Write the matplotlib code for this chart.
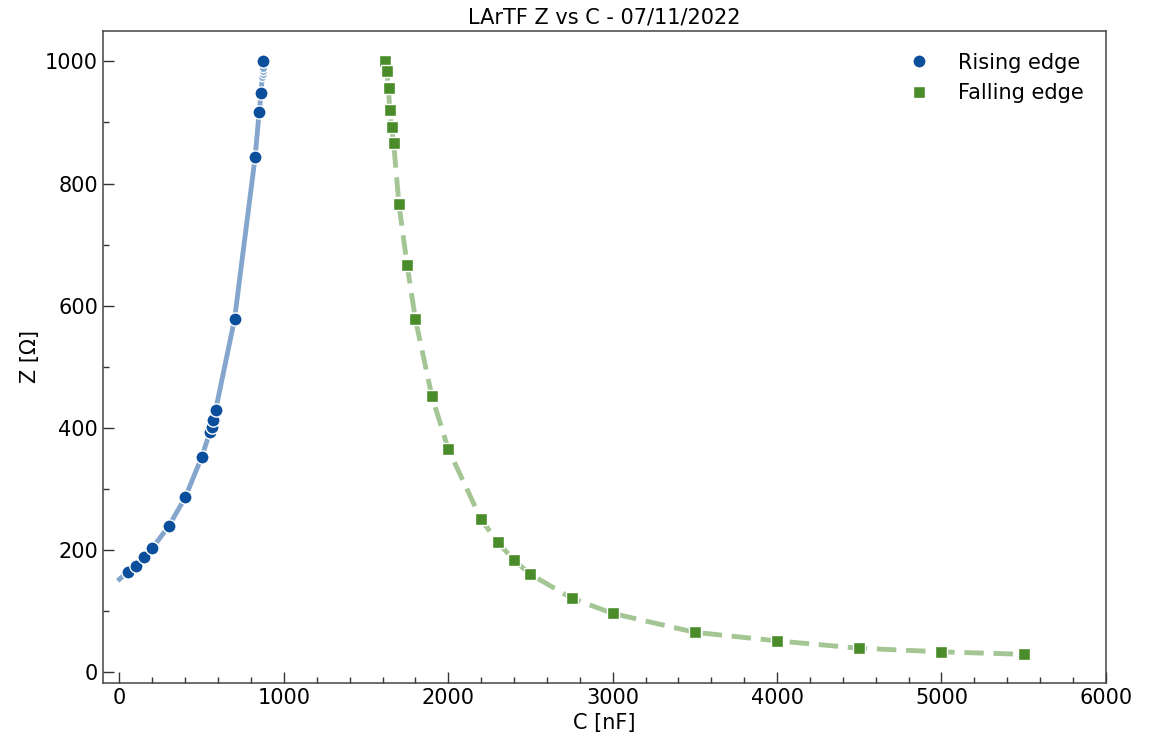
import matplotlib.pyplot as plt
import numpy as np

# rising edge measurements
rise_c = [50, 100, 150, 200, 300, 400, 500, 550, 560, 570, 585, 700, 825, 850, 862, 875]
rise_z = [164, 174, 188, 203, 239, 286, 352, 393, 402, 413, 429, 578, 843, 918, 949, 1000]
# fitted curve for the rising edge
rise_fit_c = [0, 50, 100, 150, 200, 300, 400, 500, 550, 585, 700, 825, 850, 862, 868, 870, 872, 874, 875]
rise_fit_z = [152, 164, 174, 188, 203, 239, 286, 352, 393, 429, 578, 843, 918, 949, 975, 980, 985, 990, 1000]
rise_faint_c = [868, 870, 872, 874]
rise_faint_z = [975, 980, 985, 990]

# falling edge measurements
fall_c = [1613, 1625, 1637, 1643, 1655, 1668, 1700, 1750, 1800, 1900, 2000,
          2200, 2300, 2400, 2500, 2750, 3000, 3500, 4000, 4500, 5000, 5500]
fall_z = [1000, 985, 956, 920, 892, 866, 766, 666, 578, 452, 365,
          250, 213, 183, 160, 121, 96, 65, 51, 39, 33, 29]

blue = '#0b4f9c'
green = '#4a8c2a'

fig = plt.figure(figsize=(11.5, 7.36), dpi=100)
ax = fig.add_axes([0.0896, 0.072, 0.872, 0.886])

ax.plot(rise_fit_c, rise_fit_z, color=blue, alpha=0.5, lw=3.5, zorder=1)
ax.plot(rise_faint_c, rise_faint_z, 'o', color='#7fa7d0', mec='white', mew=1, ms=6, zorder=1.5)
ax.plot(fall_c, fall_z, color=green, alpha=0.5, lw=3.5, ls=(0, (4, 2)), zorder=1)

ax.plot(rise_c, rise_z, 'o', color=blue, mec='white', mew=1, ms=9.5, label='Rising edge', zorder=2)
ax.plot(fall_c, fall_z, 's', color=green, mec='white', mew=1, ms=8.5, label='Falling edge', zorder=2)

ax.set_xlim(-100, 6000)
ax.set_ylim(-18, 1050)
ax.set_xticks(np.arange(0, 6001, 1000))
ax.set_yticks(np.arange(0, 1001, 200))
ax.set_xticks(np.arange(0, 6001, 200), minor=True)
ax.set_yticks(np.arange(0, 1001, 100), minor=True)
ax.tick_params(which='both', direction='in', labelsize=15, color='#333333')
ax.tick_params(which='major', length=8, width=1)
ax.tick_params(which='minor', length=4.5, width=1)
for s in ax.spines.values():
    s.set_color('#444444')
    s.set_linewidth(1.1)

ax.set_xlabel('C [nF]', fontsize=15, labelpad=4)
ax.set_ylabel('Z [Ω]', fontsize=15)
ax.set_title('LArTF Z vs C - 07/11/2022', fontsize=15, pad=5)
ax.legend(loc='upper right', frameon=False, fontsize=15, handletextpad=0.9,
          borderaxespad=0.65)

plt.savefig('out.png', dpi=100)
